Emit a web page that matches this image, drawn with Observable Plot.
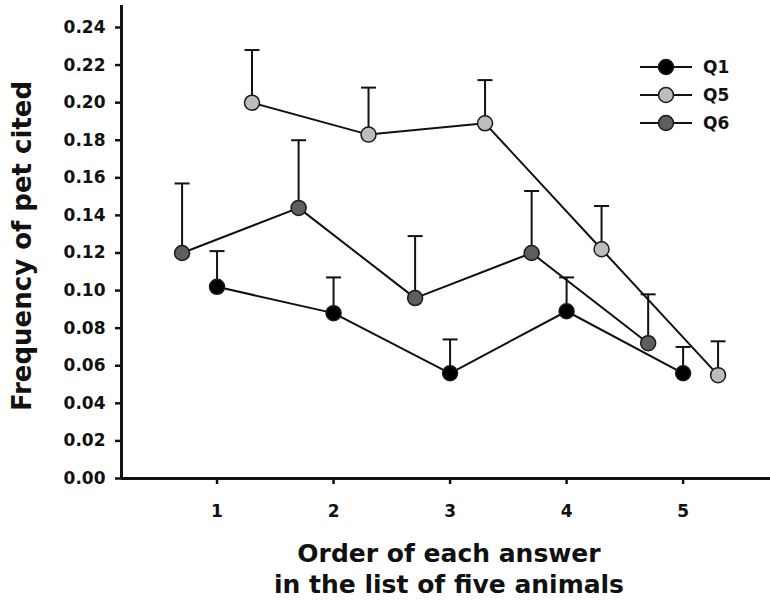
<!DOCTYPE html>
<html>
<head>
<meta charset="utf-8">
<script src="https://cdn.jsdelivr.net/npm/d3@7"></script>
<script src="https://cdn.jsdelivr.net/npm/@observablehq/plot@0.6"></script>
<style>
  html, body { margin: 0; padding: 0; background: #fff; }
  #chart { width: 770px; height: 601px; }
</style>
</head>
<body>
<div id="chart"></div>
<script>
// ---- data ----
const seriesNames = ["Q1", "Q5", "Q6"];
const seriesFill = ["#000000", "#bdbdbd", "#5e5e5e"];
const order = [1, 2, 3, 4, 5];
const q1X = [1, 2, 3, 4, 5];
const q5X = [1.3, 2.3, 3.3, 4.3, 5.3];
const q6X = [0.7, 1.7, 2.7, 3.7, 4.7];
const q1Mean = [0.102, 0.088, 0.056, 0.089, 0.056];
const q1Err  = [0.019, 0.019, 0.018, 0.018, 0.014];
const q5Mean = [0.200, 0.183, 0.189, 0.122, 0.055];
const q5Err  = [0.028, 0.025, 0.023, 0.023, 0.018];
const q6Mean = [0.120, 0.144, 0.096, 0.120, 0.072];
const q6Err  = [0.037, 0.036, 0.033, 0.033, 0.026];
const yTicks = [0, 0.02, 0.04, 0.06, 0.08, 0.10, 0.12, 0.14, 0.16, 0.18, 0.20, 0.22, 0.24];
const xTicks = [1, 2, 3, 4, 5];
const xTitle = "Order of each answer\nin the list of five animals";
const yTitle = "Frequency of pet cited";

// ---- table built from arrays ----
const xs = {Q1: q1X, Q5: q5X, Q6: q6X};
const means = {Q1: q1Mean, Q5: q5Mean, Q6: q6Mean};
const errs = {Q1: q1Err, Q5: q5Err, Q6: q6Err};
const rows = [];
seriesNames.forEach(s => order.forEach((o, i) => rows.push({
  series: s, order: o, x: xs[s][i], y: means[s][i], top: means[s][i] + errs[s][i]
})));

const xDomain = [0.18, 5.75];
const yDomain = [0, 0.2517];

const capSymbol = {
  draw(ctx, size) {
    const r = Math.sqrt(size / Math.PI);
    ctx.moveTo(-r, 0);
    ctx.lineTo(r, 0);
  }
};

const legend = (index, scales, values, dims) => {
  const g = d3.create("svg:g");
  seriesNames.forEach((s, i) => {
    const y = dims.marginTop + 62 + i * 28;
    const x0 = dims.width - 130;
    g.append("line").attr("x1", x0).attr("x2", x0 + 52).attr("y1", y).attr("y2", y)
      .attr("stroke", "#111").attr("stroke-width", 2);
    g.append("circle").attr("cx", x0 + 26).attr("cy", y).attr("r", 7.5)
      .attr("fill", seriesFill[i]).attr("stroke", "#1a1a1a").attr("stroke-width", 1.5);
    g.append("text").attr("x", x0 + 63).attr("y", y).attr("dy", "0.36em")
      .attr("text-anchor", "start")
      .attr("fill", "#111").attr("font-size", 17).attr("font-weight", "bold").text(s);
  });
  return g.node();
};

const chart = Plot.plot({
  width: 770,
  height: 601,
  marginLeft: 121,
  marginRight: 0,
  marginTop: 5,
  marginBottom: 123,
  style: {fontFamily: "'DejaVu Sans', sans-serif", fontWeight: "bold", fontSize: "17px", color: "#111", background: "#fff"},
  x: {domain: xDomain, axis: null},
  y: {domain: yDomain, axis: null},
  color: {domain: seriesNames, range: seriesFill},
  marks: [
    Plot.axisY({ticks: yTicks, tickFormat: d3.format(".2f"), tickSize: 6, tickPadding: 10, strokeWidth: 2.5, fontSize: 17, fontWeight: "bold", label: null}),
    Plot.axisX({ticks: xTicks, tickFormat: d => String(d), tickSize: 6, tickPadding: 20, strokeWidth: 2.5, fontSize: 17, fontWeight: "bold", label: null}),
    Plot.ruleX([xDomain[0]], {stroke: "#111", strokeWidth: 3}),
    Plot.ruleY([0], {stroke: "#111", strokeWidth: 3}),
    Plot.line(rows, {x: "x", y: "y", z: "series", stroke: "#111", strokeWidth: 2}),
    Plot.ruleX(rows, {x: "x", y1: "y", y2: "top", stroke: "#111", strokeWidth: 2}),
    Plot.dot(rows, {x: "x", y: "top", symbol: capSymbol, r: 7.5, stroke: "#111", strokeWidth: 2, fill: "none"}),
    Plot.dot(rows, {x: "x", y: "y", r: 7.5, fill: "series", stroke: "#1a1a1a", strokeWidth: 1.5}),
    legend,
    Plot.text([xTitle], {frameAnchor: "bottom", dx: 3, dy: 61, lineAnchor: "top", lineHeight: 1.24, fontSize: 25, fontWeight: "bold", fill: "#111"}),
    Plot.text([yTitle], {frameAnchor: "left", textAnchor: "middle", rotate: -90, dx: -99, dy: 4, lineAnchor: "middle", fontSize: 26, fontWeight: "bold", fill: "#111"})
  ]
});
document.getElementById("chart").appendChild(chart);
</script>
</body>
</html>
